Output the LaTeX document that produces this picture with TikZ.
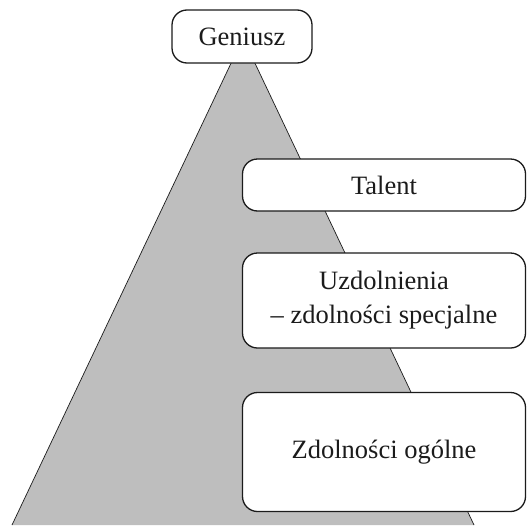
\documentclass[tikz,border=0pt]{standalone}
\usepackage{fontspec}
\setmainfont{Liberation Serif}
\usepackage{tikz}
\usetikzlibrary{positioning}
\definecolor{ink}{HTML}{1b1b1b}
\definecolor{rock}{HTML}{bebebe}

\begin{document}
\begin{tikzpicture}[x=1pt,y=-1pt,
  lvl/.style={draw=ink,line width=1.3pt,rounded corners=15pt,fill=white,inner sep=0pt,
    minimum width=283pt,align=center,font=\fontsize{26.5}{34}\selectfont},
  every node/.style={text=ink}]
 \useasboundingbox (0,0) rectangle (527,525);
 % pyramid
 \fill[rock] (243,38) -- (12,525) -- (474,525) -- cycle;
 \draw[ink,line width=0.7pt] (12,525) -- (243,38) -- (474,525);
 \node[lvl,minimum width=140pt,minimum height=53pt] (genius) at (242,36.5) {Geniusz};
 \node[lvl,minimum height=52pt] (talent) at (384,185) {Talent};
 \node[lvl,minimum height=95pt] (special) at (384,300.5) {Uzdolnienia\\ -- zdolności specjalne};
 \node[lvl,minimum height=119pt] (general) at (384,452) {Zdolności ogólne};
\end{tikzpicture}
\end{document}
